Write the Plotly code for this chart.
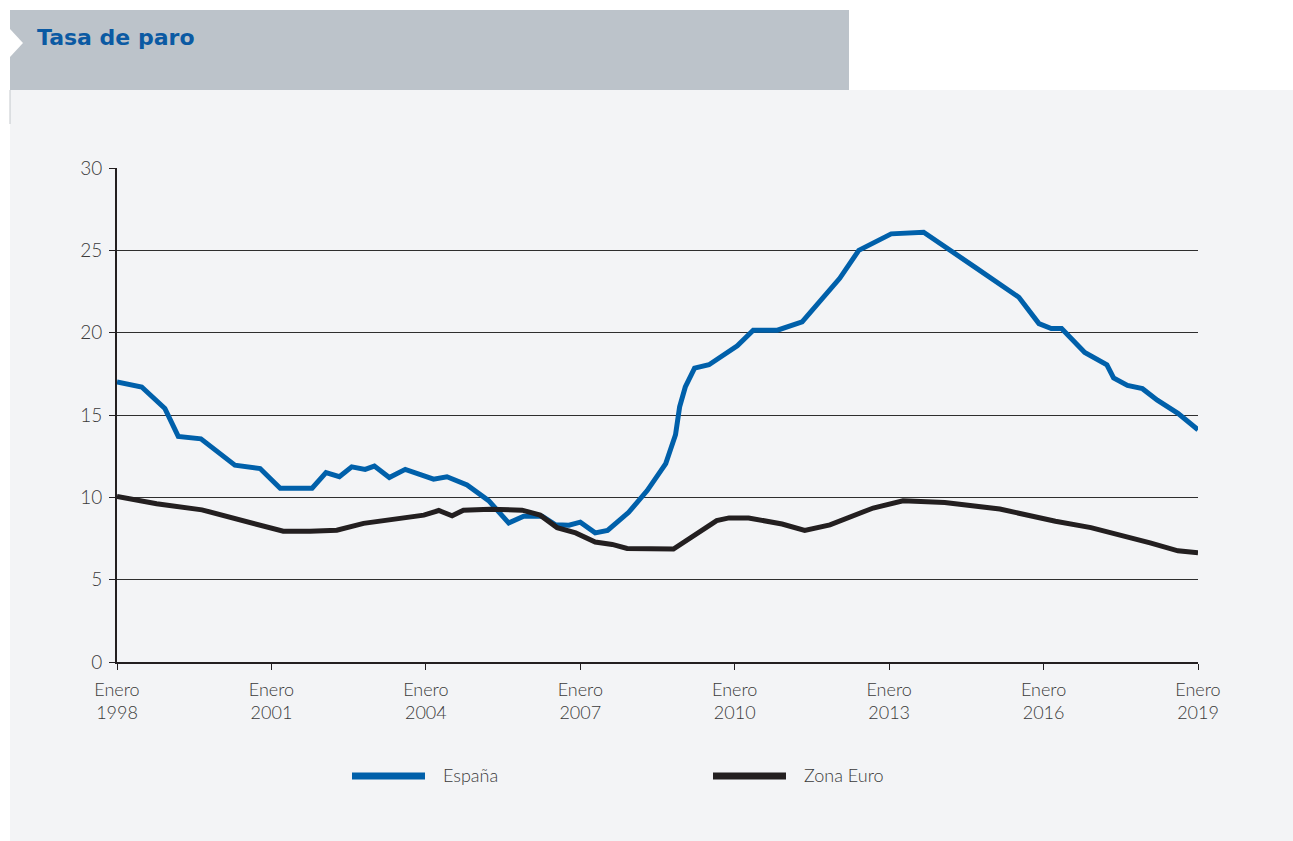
import plotly.graph_objects as go

# ---------------- data ----------------
espana_x = [1998.00, 1998.48, 1998.93, 1999.19, 1999.63, 2000.29, 2000.78, 2001.17,
            2001.79, 2002.06, 2002.32, 2002.56, 2002.82, 2003.00, 2003.29, 2003.60,
            2004.15, 2004.41, 2004.80, 2005.22, 2005.61, 2005.90, 2006.26, 2006.52,
            2006.78, 2007.00, 2007.29, 2007.53, 2007.94, 2008.30, 2008.66, 2008.85,
            2008.93, 2009.04, 2009.22, 2009.50, 2010.05, 2010.36, 2010.83, 2011.31,
            2012.04, 2012.41, 2013.04, 2013.67, 2014.68, 2015.52, 2015.91, 2016.15,
            2016.35, 2016.80, 2017.23, 2017.36, 2017.63, 2017.92, 2018.21, 2018.61,
            2019.00]
espana_y = [17.0, 16.7, 15.4, 13.7, 13.55, 11.95, 11.75, 10.55,
            10.55, 11.5, 11.25, 11.85, 11.7, 11.9, 11.2, 11.7,
            11.1, 11.25, 10.75, 9.8, 8.44, 8.85, 8.85, 8.33,
            8.31, 8.49, 7.84, 7.99, 9.09, 10.41, 12.05, 13.8,
            15.5, 16.7, 17.85, 18.05, 19.2, 20.15, 20.15, 20.65,
            23.3, 25.0, 26.0, 26.1, 23.95, 22.15, 20.55, 20.25,
            20.25, 18.8, 18.05, 17.25, 16.8, 16.6, 15.9, 15.1,
            14.1]

euro_x = [1998.00, 1998.77, 1999.65, 2000.52, 2001.23, 2001.75, 2002.27, 2002.79,
          2003.96, 2004.25, 2004.51, 2004.73, 2005.25, 2005.87, 2006.22, 2006.55,
          2006.91, 2007.29, 2007.62, 2007.91, 2008.81, 2009.65, 2009.89, 2010.27,
          2010.92, 2011.36, 2011.85, 2012.69, 2013.27, 2014.08, 2014.61, 2015.15,
          2016.23, 2016.92, 2018.07, 2018.61, 2019.00]
euro_y = [10.06, 9.61, 9.24, 8.53, 7.94, 7.94, 8.0, 8.42,
          8.92, 9.2, 8.88, 9.22, 9.27, 9.22, 8.92, 8.16,
          7.84, 7.29, 7.14, 6.9, 6.86, 8.59, 8.75, 8.75,
          8.38, 7.99, 8.33, 9.35, 9.79, 9.68, 9.46, 9.29,
          8.55, 8.16, 7.23, 6.75, 6.64]

tick_years = [1998, 2001, 2004, 2007, 2010, 2013, 2016, 2019]
tick_text = ["Enero<br>%d" % y for y in tick_years]
y_ticks = [0, 5, 10, 15, 20, 25, 30]

series_names = ["España", "Zona Euro"]
title_text = "Tasa de paro"

# ---------------- styling ----------------
BLUE = "#0060aa"
BLACK = "#231f20"
BG = "#f3f4f6"
HEADER = "#bcc3ca"
TXT = "#3a3a3a"
FONT = "Lato"

W, H = 1293, 841
L, R, T, B = 117, 1198, 168, 662


def fx(px):
    return (px - L) / (R - L)


def fy(py):
    return (B - py) / (B - T)


fig = go.Figure()
fig.add_trace(go.Scatter(x=espana_x, y=espana_y, mode="lines", name=series_names[0],
                         line=dict(color=BLUE, width=5), showlegend=False))
fig.add_trace(go.Scatter(x=euro_x, y=euro_y, mode="lines", name=series_names[1],
                         line=dict(color=BLACK, width=5), showlegend=False))

shapes = [
    dict(type="rect", xref="paper", yref="paper", x0=fx(0), x1=fx(W), y0=fy(0), y1=fy(90),
         fillcolor="white", line_width=0, layer="below"),
    dict(type="rect", xref="paper", yref="paper", x0=fx(0), x1=fx(10), y0=fy(90), y1=fy(H),
         fillcolor="white", line_width=0, layer="below"),
    dict(type="rect", xref="paper", yref="paper", x0=fx(10), x1=fx(849), y0=fy(10), y1=fy(90),
         fillcolor=HEADER, line_width=0, layer="below"),
    dict(type="path", xref="paper", yref="paper",
         path="M %f,%f L %f,%f L %f,%f Z" % (fx(10), fy(29), fx(23), fy(43), fx(10), fy(57)),
         fillcolor="white", line_width=0, layer="below"),
    dict(type="line", xref="paper", yref="paper", x0=fx(10), x1=fx(10), y0=fy(90), y1=fy(124),
         line=dict(color="#c4c8cc", width=1), layer="below"),
    dict(type="line", xref="paper", yref="paper", x0=fx(352), x1=fx(425), y0=fy(776), y1=fy(776),
         line=dict(color=BLUE, width=7)),
    dict(type="line", xref="paper", yref="paper", x0=fx(713), x1=fx(786), y0=fy(776), y1=fy(776),
         line=dict(color=BLACK, width=7)),
]

annotations = [
    dict(xref="paper", yref="paper", x=fx(35), y=fy(37), xanchor="left", yanchor="middle",
         text="<b>%s</b>" % title_text, showarrow=False,
         font=dict(family="DejaVu Sans", size=22, color="#0b5aa3")),
    dict(xref="paper", yref="paper", x=fx(441), y=fy(775), xanchor="left", yanchor="middle",
         text=series_names[0], showarrow=False,
         font=dict(family=FONT, size=18, color=TXT, weight=300)),
    dict(xref="paper", yref="paper", x=fx(802), y=fy(775), xanchor="left", yanchor="middle",
         text=series_names[1], showarrow=False,
         font=dict(family=FONT, size=18, color=TXT, weight=300)),
]

fig.update_layout(
    width=W, height=H,
    margin=dict(l=L, r=W - R, t=T, b=H - B, pad=0),
    paper_bgcolor=BG, plot_bgcolor=BG,
    shapes=shapes, annotations=annotations,
    showlegend=False,
    xaxis=dict(range=[1998, 2019], tickmode="array", tickvals=tick_years, ticktext=tick_text,
               showgrid=False, zeroline=False, showline=True, linecolor=BLACK, linewidth=2,
               ticks="outside", ticklen=6, tickwidth=1, tickcolor=BLACK, ticklabelstandoff=4,
               tickfont=dict(family=FONT, size=18, color=TXT, weight=300), fixedrange=True),
    yaxis=dict(range=[0, 30], tickmode="array", tickvals=y_ticks,
               showgrid=True, gridcolor="#2e2e2e", gridwidth=1, zeroline=False,
               showline=True, linecolor=BLACK, linewidth=2,
               ticks="outside", ticklen=6, tickwidth=1, tickcolor=BLACK, ticklabelstandoff=3,
               tickfont=dict(family=FONT, size=19, color=TXT, weight=300), fixedrange=True),
)

fig.write_html("out.html")
